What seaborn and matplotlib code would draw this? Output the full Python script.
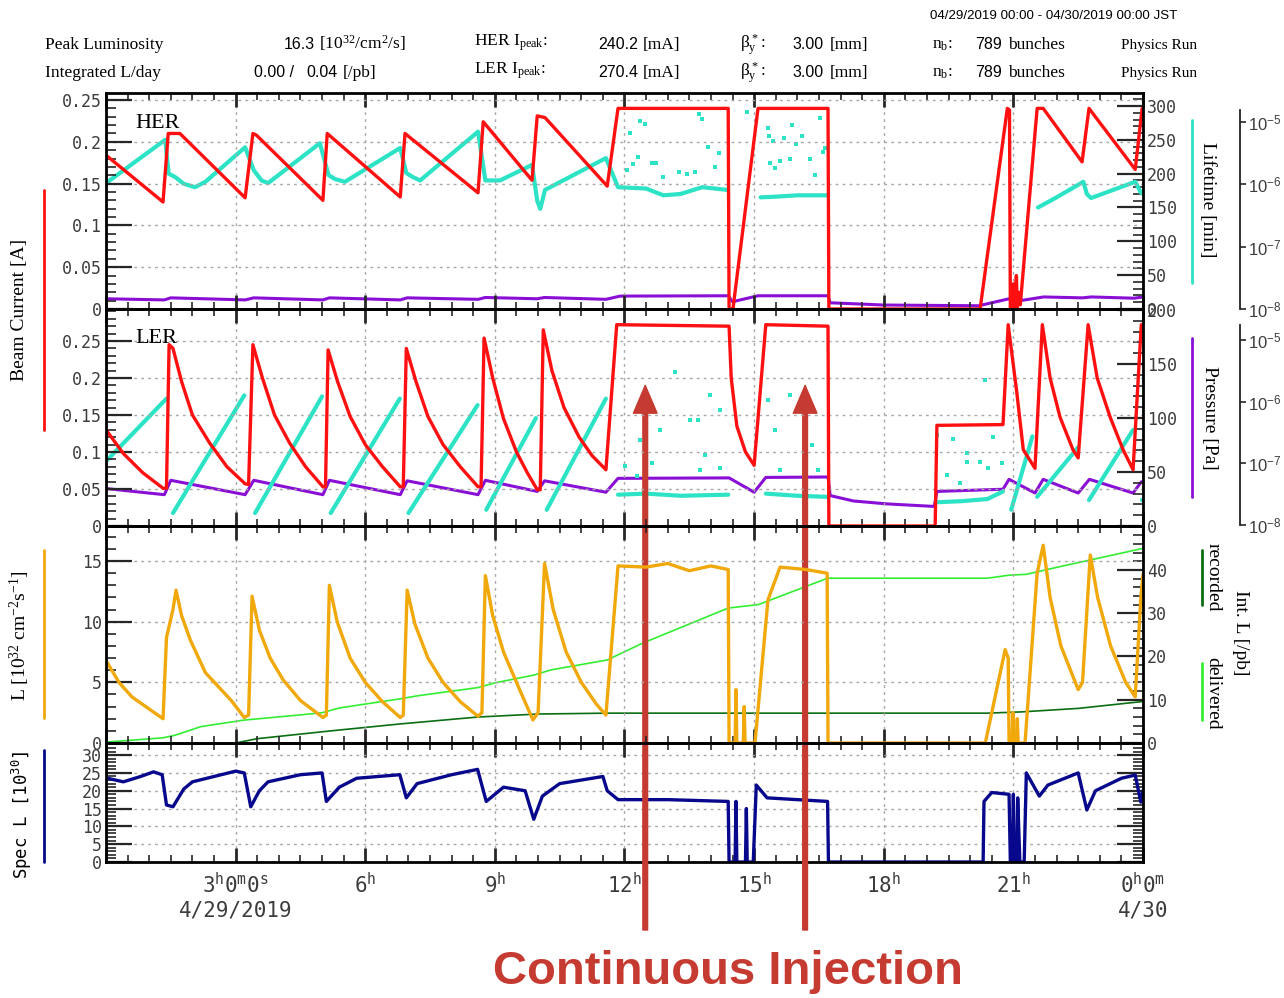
import numpy as np
import pandas as pd
import matplotlib
matplotlib.use("Agg")
import matplotlib.pyplot as plt
import seaborn as sns
from matplotlib.lines import Line2D
from matplotlib.text import Annotation
from matplotlib.ticker import MultipleLocator, FuncFormatter, FixedLocator, NullLocator, FixedFormatter

# ---------------------------------------------------------------- data
# time in hours since 04/29/2019 00:00 JST; None breaks a trace

hour_ticks = [0, 3, 6, 9, 12, 15, 18, 21, 24]
hour_labels = ["",
               "$\\mathregular{3^h0^m0^s}$\n4/29/2019",
               "$\\mathregular{6^h}$", "$\\mathregular{9^h}$",
               "$\\mathregular{12^h}$", "$\\mathregular{15^h}$",
               "$\\mathregular{18^h}$", "$\\mathregular{21^h}$",
               "$\\mathregular{0^h0^m}$\n4/30"]

# HER beam current [A]
her_current = [(0.00, 0.184), (1.32, 0.128), (1.44, 0.210), (1.71, 0.210), (3.22, 0.133),
               (3.40, 0.210), (3.48, 0.208), (5.02, 0.130), (5.12, 0.210), (6.81, 0.134),
               (6.92, 0.210), (8.61, 0.139), (8.73, 0.224), (9.86, 0.154), (9.98, 0.231),
               (10.16, 0.229), (11.60, 0.147), (11.85, 0.240), (14.40, 0.240), (14.42, 0.000),
               (14.51, 0.000), (15.09, 0.240), (16.71, 0.240), (16.73, 0.000), (20.23, 0.000),
               (20.86, 0.240), (20.91, 0.238), (20.93, 0.000), (20.98, 0.000), (21.00, 0.030),
               (21.03, 0.000), (21.07, 0.040), (21.09, 0.000), (21.12, 0.020), (21.16, 0.005),
               (21.55, 0.240), (21.69, 0.240), (22.59, 0.176), (22.75, 0.240), (23.82, 0.167),
               (23.98, 0.240), (24.00, 0.240)]

# HER beam lifetime [min]
her_lifetime = [(0.00, 186), (1.37, 250), (1.45, 200), (1.60, 195), (1.80, 185), (2.06, 180),
                (2.30, 188), (3.22, 239), (3.42, 205), (3.60, 190), (3.75, 186), (4.95, 245),
                (5.15, 198), (5.30, 192), (5.53, 188), (6.81, 238), (6.95, 201), (7.10, 195),
                (7.27, 190), (8.61, 262), (8.78, 190), (9.12, 190), (9.86, 213), (9.98, 160),
                (10.05, 148), (10.16, 176), (11.57, 223), (11.85, 180), (12.50, 178),
                (12.90, 168), (13.30, 170), (13.80, 180), (14.38, 176), None,
                (15.15, 165), (15.50, 166), (16.00, 168), (16.68, 168), None,
                (21.57, 150), (22.00, 165), (22.62, 188), (22.70, 170), (22.80, 164),
                (23.82, 188), (23.95, 172), (24.00, 170)]
her_lifetime_dots = [(12.13, 260), (12.36, 278), (12.48, 273), (12.31, 225), (12.20, 214),
                     (12.64, 216), (12.73, 216), (13.26, 202), (13.63, 203), (13.73, 288),
                     (13.80, 281), (13.94, 239), (14.19, 230), (14.10, 210), (14.84, 291),
                     (15.32, 267), (15.34, 256), (15.44, 248), (15.69, 252), (15.88, 272),
                     (16.11, 256), (15.97, 244), (16.53, 282), (16.60, 232), (16.64, 238),
                     (15.37, 216), (15.49, 208), (15.60, 219), (15.83, 222), (16.30, 222),
                     (16.41, 198), (12.05, 205), (12.90, 195), (13.45, 200)]

# HER vacuum pressure [Pa]
her_pressure = [(0.00, 1.45e-8), (1.35, 1.39e-8), (1.50, 1.50e-8), (3.22, 1.39e-8), (3.42, 1.50e-8),
                (5.02, 1.39e-8), (5.17, 1.50e-8), (6.81, 1.39e-8), (6.97, 1.50e-8), (8.61, 1.42e-8),
                (8.78, 1.52e-8), (9.98, 1.45e-8), (10.15, 1.52e-8), (11.57, 1.42e-8),
                (11.90, 1.60e-8), (14.40, 1.62e-8), (14.50, 1.30e-8), (15.09, 1.62e-8),
                (16.71, 1.62e-8), (16.76, 1.25e-8), (18.00, 1.15e-8), (20.20, 1.12e-8),
                (20.90, 1.45e-8), (21.00, 1.30e-8), (21.70, 1.55e-8), (22.60, 1.50e-8),
                (22.80, 1.55e-8), (23.80, 1.48e-8), (24.00, 1.55e-8)]

# LER beam current [A]
ler_current = [(0.00, 0.130), (0.40, 0.098), (0.85, 0.072), (1.32, 0.051), (1.40, 0.051),
               (1.46, 0.245), (1.55, 0.240), (1.75, 0.195), (2.00, 0.150), (2.40, 0.112),
               (2.80, 0.080), (3.22, 0.057), (3.30, 0.056),
               (3.40, 0.245), (3.62, 0.200), (3.90, 0.150), (4.25, 0.112), (4.62, 0.080),
               (5.02, 0.053), (5.08, 0.053),
               (5.14, 0.238), (5.36, 0.195), (5.65, 0.148), (6.00, 0.110), (6.40, 0.080),
               (6.81, 0.053), (6.88, 0.053),
               (6.95, 0.240), (7.17, 0.196), (7.45, 0.148), (7.80, 0.110), (8.20, 0.080),
               (8.61, 0.053), (8.68, 0.053),
               (8.75, 0.254), (8.95, 0.200), (9.20, 0.145), (9.50, 0.100), (9.75, 0.072),
               (9.98, 0.049), (10.05, 0.049),
               (10.12, 0.265), (10.32, 0.210), (10.60, 0.160), (10.95, 0.120), (11.25, 0.095),
               (11.57, 0.076),
               (11.82, 0.272), (14.42, 0.270), (14.47, 0.200), (14.60, 0.135), (14.80, 0.100),
               (15.00, 0.082), (15.27, 0.272), (16.71, 0.270), (16.73, 0.000), (19.19, 0.000),
               (19.23, 0.136), (20.76, 0.137),
               (20.88, 0.272), (21.08, 0.180), (21.23, 0.103), (21.50, 0.078),
               (21.67, 0.272), (21.85, 0.200), (22.08, 0.147), (22.38, 0.103), (22.50, 0.092),
               (22.73, 0.272), (22.94, 0.200), (23.24, 0.147), (23.54, 0.103), (23.77, 0.076),
               (23.96, 0.272), (24.00, 0.270)]

# LER beam lifetime [min]
ler_lifetime = [(0.00, 60), (1.40, 118), None, (1.55, 12), (3.20, 121), None,
                (3.45, 12), (5.00, 120), None, (5.20, 12), (6.80, 118), None,
                (7.00, 12), (8.60, 112), None, (8.80, 15), (9.95, 100), None,
                (10.20, 15), (11.57, 118), None,
                (11.85, 29), (12.50, 30), (13.30, 28), (14.40, 29), None,
                (15.27, 30), (16.00, 28), (16.70, 27), None,
                (19.23, 22), (19.80, 23), (20.40, 25), (20.76, 32), None,
                (20.95, 15), (21.44, 83), None, (21.55, 27), (22.50, 73), None,
                (22.75, 24), (23.77, 89), None, (23.98, 24), (24.00, 24)]
ler_lifetime_dots = [(12.01, 56), (12.36, 80), (12.64, 58), (12.82, 89), (13.17, 143),
                     (13.52, 98), (13.70, 98), (13.87, 66), (13.98, 121), (14.21, 107),
                     (14.21, 54), (12.29, 46), (13.75, 52), (15.32, 117), (15.49, 89),
                     (15.83, 121), (16.18, 98), (16.34, 75), (16.48, 52), (15.60, 52),
                     (20.35, 135), (19.24, 84), (19.61, 81), (19.93, 68), (20.23, 59),
                     (20.53, 82), (20.74, 58), (19.47, 47), (19.77, 40), (20.42, 54),
                     (19.93, 59)]

# LER vacuum pressure [Pa]
ler_pressure = [(0.00, 3.9e-8), (1.35, 3.1e-8), (1.50, 5.3e-8), (3.22, 3.1e-8), (3.42, 5.3e-8),
                (5.02, 3.1e-8), (5.17, 5.3e-8), (6.81, 3.1e-8), (6.97, 5.2e-8), (8.61, 3.1e-8),
                (8.78, 5.3e-8), (9.98, 3.5e-8), (10.15, 5.2e-8), (11.57, 3.4e-8),
                (11.85, 5.7e-8), (14.42, 5.8e-8), (15.00, 3.4e-8), (15.27, 5.9e-8),
                (16.71, 6.0e-8), (16.76, 3.0e-8), (17.30, 2.45e-8), (18.07, 2.2e-8),
                (19.17, 2.0e-8), (19.23, 3.5e-8), (20.76, 3.8e-8), (20.90, 5.5e-8),
                (21.50, 3.3e-8), (21.69, 5.5e-8), (22.50, 3.3e-8), (22.76, 5.5e-8),
                (23.77, 3.3e-8), (23.96, 5.0e-8), (24.00, 5.0e-8)]

# luminosity [1e32 cm^-2 s^-1]
luminosity = [(0.00, 6.8), (0.30, 5.0), (0.60, 3.8), (1.00, 2.8), (1.32, 2.0), (1.40, 8.7),
              (1.55, 11.0), (1.62, 12.6), (1.75, 10.5), (1.95, 8.5), (2.30, 5.8), (2.90, 3.5),
              (3.20, 2.1), (3.30, 2.3), (3.38, 12.1), (3.55, 9.3), (3.80, 7.0), (4.10, 5.2),
              (4.50, 3.5), (5.02, 2.1), (5.10, 2.3), (5.17, 13.0), (5.35, 10.0), (5.65, 7.0),
              (6.00, 5.0), (6.40, 3.4), (6.81, 2.1), (6.88, 2.3), (6.97, 12.6), (7.15, 9.8),
              (7.45, 7.0), (7.80, 5.0), (8.20, 3.4), (8.61, 2.2), (8.70, 2.5), (8.78, 13.8),
              (8.95, 10.5), (9.20, 7.5), (9.50, 5.0), (9.88, 1.9), (10.00, 2.5), (10.15, 14.8),
              (10.35, 11.0), (10.65, 7.5), (11.00, 5.0), (11.35, 3.2), (11.57, 2.3),
              (11.85, 14.6), (12.50, 14.5), (13.00, 14.8), (13.50, 14.2), (14.00, 14.6),
              (14.40, 14.3), (14.42, 0.0), (14.56, 0.0), (14.58, 4.4), (14.60, 0.0),
              (14.75, 0.0), (14.77, 3.0), (14.79, 0.0), (15.02, 0.0), (15.32, 11.8),
              (15.60, 14.5), (16.20, 14.3), (16.69, 14.0), (16.71, 0.0), (20.35, 0.0),
              (20.81, 7.7), (20.88, 7.0), (20.90, 0.0), (20.97, 0.0), (20.99, 2.5),
              (21.01, 0.0), (21.07, 0.0), (21.09, 2.0), (21.11, 0.0), (21.27, 0.0),
              (21.55, 14.0), (21.69, 16.3), (21.85, 12.0), (22.10, 8.0), (22.50, 4.4),
              (22.60, 5.0), (22.78, 15.5), (22.95, 12.0), (23.25, 8.0), (23.60, 5.0),
              (23.82, 3.8), (23.95, 12.0), (24.00, 13.9)]

# integrated luminosity [/pb]
delivered = [(0.00, 0.2), (1.32, 1.2), (1.60, 1.8), (2.20, 3.8), (3.20, 5.3), (4.50, 6.5),
             (5.00, 7.0), (5.40, 8.1), (6.80, 10.2), (7.20, 10.9), (8.60, 12.8), (9.00, 13.9),
             (9.90, 15.7), (10.30, 16.9), (11.60, 19.2), (12.40, 23.0), (14.40, 31.2),
             (15.10, 32.0), (16.70, 38.1), (20.40, 38.1), (20.90, 38.8), (21.30, 39.0),
             (22.00, 40.6), (23.00, 42.8), (24.00, 45.0)]
recorded = [(0.00, 0.0), (3.00, 0.0), (3.50, 1.0), (5.20, 2.8), (6.80, 4.4), (8.60, 6.0),
            (10.00, 6.7), (11.60, 6.9), (20.40, 6.9), (21.20, 7.2), (22.50, 8.0), (24.00, 9.6)]

# specific luminosity [1e30]
spec_lumi = [(0.00, 23.6), (0.40, 22.5), (0.80, 24.0), (1.10, 25.3), (1.30, 24.5), (1.40, 16.0),
             (1.55, 15.5), (1.80, 20.5), (2.00, 22.5), (2.50, 24.0), (3.00, 25.5), (3.20, 25.0),
             (3.35, 15.5), (3.55, 20.0), (3.75, 22.5), (4.50, 24.5), (5.00, 25.0), (5.10, 17.0),
             (5.40, 21.0), (5.80, 23.5), (6.80, 24.5), (6.95, 18.0), (7.20, 22.0), (8.00, 24.5),
             (8.60, 26.0), (8.80, 17.0), (9.20, 21.0), (9.70, 20.0), (9.90, 12.0), (10.10, 18.5),
             (10.50, 22.0), (11.50, 24.0), (11.60, 20.0), (11.85, 17.5), (13.00, 17.5),
             (14.40, 17.0), (14.42, 0.0), (14.56, 0.0), (14.58, 17.0), (14.60, 0.0),
             (14.80, 0.0), (14.82, 15.0), (14.84, 0.0), (14.98, 0.0), (15.05, 21.6),
             (15.30, 18.0), (16.00, 17.5), (16.70, 17.0), (16.72, 0.0), (20.30, 0.0),
             (20.32, 17.0), (20.50, 19.5), (20.90, 19.0), (20.93, 0.0), (20.98, 0.0),
             (21.00, 19.0), (21.02, 0.0), (21.08, 0.0), (21.10, 18.0), (21.15, 0.0),
             (21.25, 0.0), (21.30, 25.0), (21.60, 18.5), (21.80, 21.6), (22.50, 25.0),
             (22.70, 14.6), (22.90, 20.0), (23.50, 23.5), (23.82, 24.4), (23.95, 16.8),
             (24.00, 20.0)]

# ---------------------------------------------------------------- style
sns.set_theme(style="white")
MONO = "DejaVu Sans Mono"
SERIF = "Liberation Serif"
SANS = "Liberation Sans"
plt.rcParams["font.family"] = [MONO, "DejaVu Sans"]
plt.rcParams["axes.unicode_minus"] = True

C_RED = "#ff1010"
C_CYAN = "#2de3c6"
C_PURPLE = "#8a0fd6"
C_ORANGE = "#f0a80a"
C_GREEN = "#33ee33"
C_DKGREEN = "#0b6e14"
C_NAVY = "#08088c"
C_ANNOT = "#c63b31"
TICK_COLOR = "#3c3c3c"

W, H = 1284, 998
X0, X1 = 106, 1143
PX = 72 / 100  # points per pixel at 100 dpi
fig = plt.figure(figsize=(W / 100, H / 100), dpi=100, facecolor="white")


def panel(top, bottom):
    ax = fig.add_axes([X0 / W, 1 - bottom / H, (X1 - X0) / W, (bottom - top) / H])
    return ax


def to_frame(pairs):
    rows, seg = [], 0
    for p in pairs:
        if p is None:
            seg += 1
            continue
        rows.append((p[0], p[1], seg))
    return pd.DataFrame(rows, columns=["t", "v", "seg"])


def trace(ax, pairs, color, lw):
    df = to_frame(pairs)
    sns.lineplot(data=df, x="t", y="v", units="seg", estimator=None, sort=False,
                 color=color, linewidth=lw, ax=ax, legend=False)
    ax.set_xlabel("")
    ax.set_ylabel("")


def dots(ax, pairs, color):
    df = to_frame(pairs)
    sns.scatterplot(data=df, x="t", y="v", color=color, s=9, marker="s",
                    linewidth=0, ax=ax, legend=False)
    ax.set_xlabel("")
    ax.set_ylabel("")


def gfmt(v, pos):
    return f"{v:g}"


def style_main(ax, ymax, major, minor, right_ticks=False):
    ax.set_xlim(0, 24)
    ax.set_ylim(0, ymax)
    ax.patch.set_visible(False)
    ax.xaxis.set_major_locator(FixedLocator(hour_ticks))
    ax.xaxis.set_minor_locator(MultipleLocator(0.5))
    ax.yaxis.set_major_locator(MultipleLocator(major))
    ax.yaxis.set_minor_locator(MultipleLocator(minor))
    ax.yaxis.set_major_formatter(FuncFormatter(gfmt))
    ax.tick_params(axis="y", which="major", direction="in", length=19, width=1.6,
                   left=True, right=right_ticks, labelleft=True, labelright=False,
                   labelsize=12, labelcolor=TICK_COLOR, pad=3)
    ax.tick_params(axis="y", which="minor", direction="in", length=7, width=1.2,
                   left=True, right=right_ticks)
    ax.tick_params(axis="x", which="major", direction="in", length=10, width=2,
                   top=True, bottom=True, labelbottom=False)
    ax.tick_params(axis="x", which="minor", direction="in", length=5, width=1.2,
                   top=True, bottom=True)
    ax.grid(True, which="major", color="#a8a8a8", linestyle=(0, (2, 3)), linewidth=1)
    ax.grid(False, which="minor")
    for s in ax.spines.values():
        s.set_visible(True)
        s.set_linewidth(2)
        s.set_color("black")


def style_right(ax, ymax, ticks, minor):
    ax.set_ylim(0, ymax)
    ax.yaxis.set_major_locator(FixedLocator(ticks))
    ax.yaxis.set_minor_locator(MultipleLocator(minor))
    ax.yaxis.set_major_formatter(FuncFormatter(gfmt))
    ax.tick_params(axis="y", which="major", direction="in", length=19, width=1.6,
                   right=True, labelright=True, labelsize=12, labelcolor=TICK_COLOR, pad=3)
    ax.tick_params(axis="y", which="minor", direction="in", length=7, width=1.2, right=True)
    ax.grid(False)
    for s in ax.spines.values():
        s.set_visible(False)


def style_log(ax, lo, hi, spine_top):
    ax.set_ylim(lo, hi)
    ax.spines["right"].set_visible(True)
    ax.spines["right"].set_position(("outward", 97 * PX))
    for k in ("left", "top", "bottom"):
        ax.spines[k].set_visible(False)
    ax.spines["right"].set_bounds(1e-8, spine_top)
    ax.spines["right"].set_linewidth(1.3)
    ax.spines["right"].set_color("#222222")
    ax.yaxis.set_major_locator(FixedLocator([1e-8, 1e-7, 1e-6, 1e-5]))
    ax.yaxis.set_minor_locator(NullLocator())
    ax.yaxis.set_major_formatter(FixedFormatter(["$\\mathregular{10^{-8}}$", "$\\mathregular{10^{-7}}$",
                                                 "$\\mathregular{10^{-6}}$", "$\\mathregular{10^{-5}}$"]))
    ax.tick_params(axis="y", which="major", direction="out", length=4, width=1.2,
                   right=True, labelright=True, labelsize=12, labelcolor=TICK_COLOR,
                   pad=1.5, labelfontfamily=SANS)
    ax.grid(False)


# ---------------------------------------------------------------- panels
ax_her = panel(93, 309)
ax_ler = panel(309, 526)
ax_lum = panel(526, 743)
ax_spc = panel(743, 862)

# HER: current (left), lifetime (right), pressure (outer log axis)
her_pres = ax_her.twinx()
her_life = ax_her.twinx()
her_pres.set_yscale("log")
trace(her_pres, her_pressure, C_PURPLE, 2.2)
trace(her_life, her_lifetime, C_CYAN, 3.0)
dots(her_life, her_lifetime_dots, C_CYAN)
trace(ax_her, her_current, C_RED, 2.4)
her_pres.set_zorder(1)
her_life.set_zorder(2)
ax_her.set_zorder(3)
style_main(ax_her, 0.2584, 0.05, 0.01)
style_right(her_life, 319.2, [0, 50, 100, 150, 200, 250, 300], 10)
style_log(her_pres, 10 ** -8.003, 10 ** -4.535, 10 ** -4.81)

# LER
ler_pres = ax_ler.twinx()
ler_life = ax_ler.twinx()
ler_pres.set_yscale("log")
trace(ler_pres, ler_pressure, C_PURPLE, 2.2)
trace(ler_life, ler_lifetime, C_CYAN, 3.0)
dots(ler_life, ler_lifetime_dots, C_CYAN)
trace(ax_ler, ler_current, C_RED, 2.4)
ler_pres.set_zorder(1)
ler_life.set_zorder(2)
ax_ler.set_zorder(3)
style_main(ax_ler, 0.2932, 0.05, 0.01)
style_right(ler_life, 201, [0, 50, 100, 150, 200], 10)
style_log(ler_pres, 10 ** -8.016, 10 ** -4.50, 10 ** -4.76)

# luminosity and integrated luminosity
lum_int = ax_lum.twinx()
trace(lum_int, delivered, C_GREEN, 1.2)
trace(lum_int, recorded, C_DKGREEN, 1.2)
trace(ax_lum, luminosity, C_ORANGE, 2.4)
lum_int.set_zorder(2)
ax_lum.set_zorder(3)
style_main(ax_lum, 17.89, 5, 1)
style_right(lum_int, 50.17, [0, 10, 20, 30, 40], 2)

# specific luminosity
trace(ax_spc, spec_lumi, C_NAVY, 2.4)
style_main(ax_spc, 33.4, 5, 1, right_ticks=True)
ax_spc.xaxis.set_major_formatter(FixedFormatter(hour_labels))
ax_spc.tick_params(axis="x", which="major", labelbottom=True, labelsize=15,
                   labelcolor=TICK_COLOR, pad=7)

for ax in (ax_her, ax_ler, ax_lum, ax_spc):
    ax.set_xlim(0, 24)

# ---------------------------------------------------------------- text
def fx(x):
    return x / W


def fy(y):
    return 1 - y / H


ax_her.text(0.028, 0.86, "HER", transform=ax_her.transAxes, family=SERIF, fontsize=16,
            color="black", va="center", ha="left")
ax_ler.text(0.028, 0.865, "LER", transform=ax_ler.transAxes, family=SERIF, fontsize=16,
            color="black", va="center", ha="left")

hdr = 12.5
num = 11.5
B1, B2 = 49, 77
# (x, baseline, text, family, size, alignment)
header = [
    (45, B1, "Peak Luminosity", SERIF, hdr, "left"),
    (315, B1, "16.3", SANS, num, "right"),
    (319, B1, "[10$\\mathregular{^{32}}$/cm$\\mathregular{^{2}}$/s]", SERIF, hdr, "left"),
    (45, B2, "Integrated L/day", SERIF, hdr, "left"),
    (294, B2, "0.00 /", SANS, num, "right"),
    (338, B2, "0.04", SANS, num, "right"),
    (343, B2, "[/pb]", SERIF, hdr, "left"),
    (474, B1 - 3, "HER I$\\mathregular{_{peak}}$:", SERIF, hdr, "left"),
    (474, B2 - 3, "LER I$\\mathregular{_{peak}}$:", SERIF, hdr, "left"),
    (638, B1, "240.2", SANS, num, "right"),
    (638, B2, "270.4", SANS, num, "right"),
    (643, B1, "[mA]", SERIF, hdr, "left"),
    (643, B2, "[mA]", SERIF, hdr, "left"),
    (740, B1, "β$\\mathregular{_y^*}$:", SERIF, hdr, "left"),
    (740, B2, "β$\\mathregular{_y^*}$:", SERIF, hdr, "left"),
    (824, B1, "3.00", SANS, num, "right"),
    (824, B2, "3.00", SANS, num, "right"),
    (830, B1, "[mm]", SERIF, hdr, "left"),
    (830, B2, "[mm]", SERIF, hdr, "left"),
    (932, B1, "n$\\mathregular{_b}$:", SERIF, hdr, "left"),
    (932, B2, "n$\\mathregular{_b}$:", SERIF, hdr, "left"),
    (1002, B1, "789", SANS, num, "right"),
    (1002, B2, "789", SANS, num, "right"),
    (1008, B1, "bunches", SERIF, hdr, "left"),
    (1008, B2, "bunches", SERIF, hdr, "left"),
    (1121, B1, "Physics Run", SERIF, 11, "left"),
    (1121, B2, "Physics Run", SERIF, 11, "left"),
    (930, 19, "04/29/2019 00:00 - 04/30/2019 00:00 JST", SANS, 9.6, "left"),
]
for x, y, s, fam, size, ha in header:
    fig.text(fx(x), fy(y), s, family=fam, fontsize=size, color="black",
             ha=ha, va="baseline")

# axis titles with colour keys
side = [
    (20, 310, "Beam Current [A]", 90, SERIF, 14),
    (1208, 200, "Lifetime [min]", 270, SERIF, 14),
    (1210, 418, "Pressure [Pa]", 270, SERIF, 14),
    (20, 636, "L [10$\\mathregular{^{32}}$ cm$\\mathregular{^{-2}}$s$\\mathregular{^{-1}}$]", 90, SERIF, 14),
    (1213, 577, "recorded", 270, SERIF, 14),
    (1213, 693, "delivered", 270, SERIF, 14),
    (1240, 633, "Int. L [/pb]", 270, SERIF, 14),
    (22, 815, "Spec L [10$\\mathregular{^{30}}$]", 90, MONO, 12.5),
]
for x, y, s, rot, fam, size in side:
    fig.text(fx(x), fy(y), s, rotation=rot, family=fam, fontsize=size, color="black",
             ha="center", va="center", rotation_mode="anchor")

keys = [
    (44, 190, 430, C_RED),
    (1192, 120, 283, C_CYAN),
    (1192, 338, 497, C_PURPLE),
    (44, 550, 718, C_ORANGE),
    (1202, 550, 605, C_DKGREEN),
    (1202, 663, 720, C_GREEN),
    (44, 750, 862, C_NAVY),
]
for x, y0, y1, c in keys:
    fig.add_artist(Line2D([fx(x), fx(x)], [fy(y0), fy(y1)], transform=fig.transFigure,
                          color=c, linewidth=2))

# continuous-injection callout
fig.text(fx(728), fy(972), "Continuous Injection", family=SANS,
         fontweight="bold", fontsize=34, color=C_ANNOT, ha="center", va="center")
inv = fig.transFigure.inverted()
for t_arrow in (12.48, 16.18):
    tip = inv.transform(ax_ler.transData.transform((t_arrow, 0.19)))
    tail = (tip[0], fy(930))
    ann = Annotation("", xy=tuple(tip), xycoords="figure fraction", xytext=tail,
                     textcoords="figure fraction",
                     arrowprops=dict(width=3.4, headwidth=17, headlength=20,
                                     color=C_ANNOT, shrink=0))
    fig.add_artist(ann)

fig.savefig("out.png", dpi=100, facecolor="white")
